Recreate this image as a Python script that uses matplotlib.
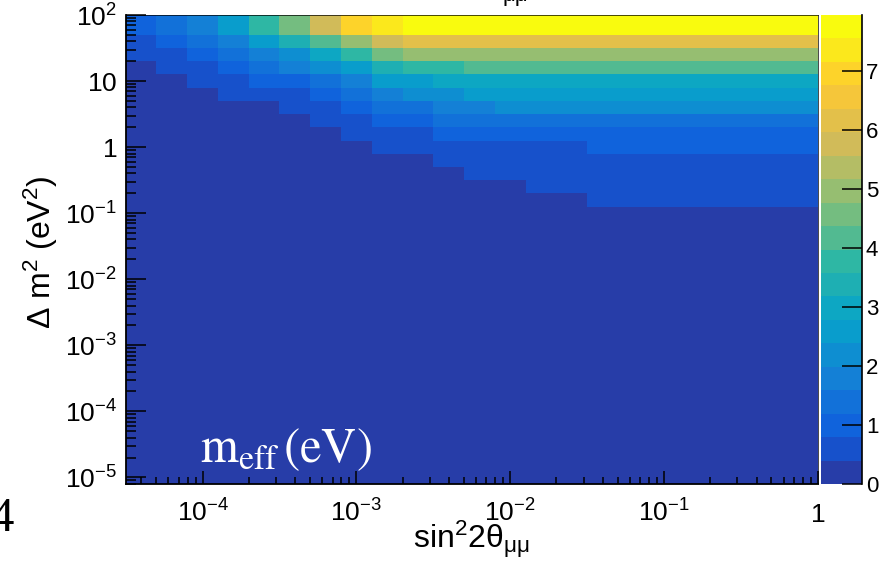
import numpy as np
import matplotlib
matplotlib.use("Agg")
import matplotlib.pyplot as plt
from matplotlib.colors import LinearSegmentedColormap, ListedColormap, BoundaryNorm
from matplotlib.ticker import LogLocator, NullFormatter

plt.rcParams['font.family'] = ['Liberation Sans', 'DejaVu Sans']
plt.rcParams['mathtext.fontset'] = 'custom'
plt.rcParams['mathtext.rm'] = 'Liberation Sans'
plt.rcParams['mathtext.it'] = 'Liberation Sans:italic'
plt.rcParams['mathtext.bf'] = 'Liberation Sans:bold'
plt.rcParams['mathtext.default'] = 'regular'

# ---- grid: log10 bin edges -------------------------------------------
log_sin2_edges = np.arange(-45, 2, 2) / 10.0                    # -4.5 ... 0.1 (23 bins)
log_dm2_edges = np.append(np.arange(-51, 18, 2) / 10.0, 2.0)    # -5.1 ... 1.7, 2.0 (35 bins)

# ---- m_eff (eV), rows from dm2 = 10^1.8 down to 10^-0.8 ----------------
m_eff_r18 = [1.0, 1.4, 1.75, 2.6, 3.7, 4.6, 5.8, 7.0, 7.4] + [7.94] * 14
m_eff_r16 = [0.6, 1.0, 1.4, 1.8, 2.6, 3.4, 4.2, 5.0, 5.8] + [6.3] * 14
m_eff_r14 = [0.5, 0.7, 1.0, 1.4, 1.8, 2.2, 3.0, 3.8, 4.6] + [5.0] * 14
m_eff_r12 = [0.35, 0.5, 0.7, 1.0, 1.4, 1.8, 2.2, 2.6, 3.4, 3.8, 3.9] + [4.0] * 12
m_eff_r10 = [0.25, 0.35, 0.5, 0.7, 0.9, 1.1, 1.4, 1.8, 2.5, 2.7, 3.0] + [3.1] * 12
m_eff_r08 = [0.2, 0.28, 0.36, 0.45, 0.6, 0.75, 1.0, 1.3, 1.8, 2.1, 2.3] + [2.5] * 12
m_eff_r06 = [0.14, 0.2, 0.26, 0.32, 0.38, 0.5, 0.7, 0.95, 1.25, 1.45, 1.7, 1.9] + [2.05] * 11
m_eff_r04 = [0.1, 0.14, 0.18, 0.23, 0.29, 0.36, 0.46, 0.62, 0.85, 1.05, 1.3, 1.4] + [1.5] * 11
m_eff_r02 = [0.07, 0.1, 0.13, 0.16, 0.2, 0.25, 0.32, 0.42, 0.55, 0.7, 0.85, 1.0] + [1.15] * 11
m_eff_r00 = [0.05, 0.07, 0.09, 0.11, 0.14, 0.18, 0.23, 0.3, 0.4, 0.5, 0.6, 0.68,
             0.74, 0.78, 0.79] + [0.95] * 8
m_eff_rm02 = [0.04, 0.05, 0.06, 0.08, 0.1, 0.13, 0.16, 0.21, 0.27, 0.35, 0.44, 0.55,
              0.64, 0.7, 0.74] + [0.76] * 8
m_eff_rm04 = [0.03, 0.04, 0.05, 0.06, 0.07, 0.09, 0.11, 0.15, 0.19, 0.25, 0.33, 0.41,
              0.5, 0.56, 0.6] + [0.62] * 8
m_eff_rm06 = [0.02, 0.03, 0.03, 0.04, 0.05, 0.06, 0.08, 0.1, 0.13, 0.18, 0.23, 0.3,
              0.37, 0.43, 0.47] + [0.5] * 8
m_eff_rm08 = [0.02, 0.02, 0.02, 0.03, 0.04, 0.04, 0.06, 0.07, 0.09, 0.13, 0.17, 0.22,
              0.28, 0.33, 0.37] + [0.41] * 8
# rows 10^-1.0 ... 10^-5.0: a single (lowest-band) level across each row
m_eff_low_rows = [0.33, 0.26, 0.21, 0.17, 0.13, 0.1, 0.085, 0.067, 0.053, 0.042, 0.033,
                  0.027, 0.021, 0.017, 0.013, 0.011, 0.0085, 0.0067, 0.0053, 0.0042, 0.0034]

m_eff_max = 7.95
n_contours = 20

x_major_ticks = [1e-4, 1e-3, 1e-2, 1e-1, 1.0]
x_tick_labels = ['$10^{-4}$', '$10^{-3}$', '$10^{-2}$', '$10^{-1}$', '$1$']
y_major_ticks = [1e-5, 1e-4, 1e-3, 1e-2, 1e-1, 1.0, 10.0, 100.0]
y_tick_labels = ['$10^{-5}$', '$10^{-4}$', '$10^{-3}$', '$10^{-2}$', '$10^{-1}$',
                 '$1$', '$10$', '$10^{2}$']
cbar_ticks = [0, 1, 2, 3, 4, 5, 6, 7]

# ---- assemble the 2-D table (ascending dm2) -----------------------------
n_cols = len(log_sin2_edges) - 1
upper = np.array([m_eff_r18, m_eff_r16, m_eff_r14, m_eff_r12, m_eff_r10, m_eff_r08,
                  m_eff_r06, m_eff_r04, m_eff_r02, m_eff_r00, m_eff_rm02, m_eff_rm04,
                  m_eff_rm06, m_eff_rm08])
lower = np.repeat(np.array(m_eff_low_rows)[:, None], n_cols, axis=1)
m_eff = np.vstack([upper, lower])[::-1]

# ---- "bird" palette, split into contour bands -------------------------
bird_stops = [0.0, 0.125, 0.25, 0.375, 0.5, 0.625, 0.75, 0.875, 1.0]
bird_r = [0.2082, 0.0592, 0.0780, 0.0232, 0.1802, 0.5301, 0.8186, 0.9956, 0.9764]
bird_g = [0.1664, 0.3599, 0.5041, 0.6419, 0.7178, 0.7492, 0.7328, 0.7862, 0.9832]
bird_b = [0.5293, 0.8684, 0.8385, 0.7914, 0.6425, 0.4662, 0.3499, 0.1968, 0.0539]
bird = LinearSegmentedColormap.from_list(
    'bird', list(zip(bird_stops, zip(bird_r, bird_g, bird_b))), N=255)
band_colors = [bird(int((k + 0.99) * 255 / n_contours) / 254.0) for k in range(n_contours)]
cmap = ListedColormap(band_colors)
levels = np.linspace(0.0, m_eff_max, n_contours + 1)
norm = BoundaryNorm(levels, n_contours)

# ---- figure ------------------------------------------------------------
W, H = 886, 562
fig = plt.figure(figsize=(W / 100, H / 100), dpi=100)
ax = fig.add_axes([125.7 / W, (H - 484) / H, (817.7 - 125.7) / W, (484 - 15) / H])
cax = fig.add_axes([820.7 / W, (H - 484) / H, 41.0 / W, (484 - 15) / H])

mesh = ax.pcolormesh(10.0 ** log_sin2_edges, 10.0 ** log_dm2_edges, m_eff,
                     cmap=cmap, norm=norm, shading='flat')
ax.set_xscale('log')
ax.set_yscale('log')
ax.set_xlim(10.0 ** log_sin2_edges[0], 1.0)
ax.set_ylim(10.0 ** log_dm2_edges[0], 100.0)

for side in ('left', 'bottom'):
    ax.spines[side].set_linewidth(1.3)
for side in ('top', 'right'):
    ax.spines[side].set_linewidth(0.5)

ax.xaxis.set_minor_locator(LogLocator(base=10, subs=np.arange(2, 10), numticks=100))
ax.yaxis.set_minor_locator(LogLocator(base=10, subs=np.arange(2, 10), numticks=100))
ax.xaxis.set_minor_formatter(NullFormatter())
ax.yaxis.set_minor_formatter(NullFormatter())

ax.tick_params(axis='x', which='major', direction='in', length=9.6, width=1.1,
               pad=27.4, labelsize=19, top=False)
ax.tick_params(axis='x', which='minor', direction='in', length=4.8, width=1.1, top=False)
ax.tick_params(axis='y', which='major', direction='in', length=14.4, width=1.1,
               pad=6.3, labelsize=19, right=False)
ax.tick_params(axis='y', which='minor', direction='in', length=7.2, width=1.1, right=False)

ax.set_xticks(x_major_ticks)
ax.set_xticklabels(x_tick_labels)
ax.set_yticks(y_major_ticks)
ax.set_yticklabels(y_tick_labels)
for lbl in ax.get_xticklabels():
    lbl.set_verticalalignment('baseline')

# ---- colour scale --------------------------------------------------------
cb = fig.colorbar(mesh, cax=cax)
cb.outline.set_visible(False)
cb.set_ticks(cbar_ticks, labels=[str(t) for t in cbar_ticks])
cb.minorticks_off()
cax.yaxis.set_ticks_position('right')
cax.tick_params(axis='y', which='major', direction='in', length=14.4, width=1.1,
                pad=3, labelsize=16, colors='black')
cax.plot([1, 1], [0, 1], transform=cax.transAxes, color='black', lw=1.2, clip_on=False)

# ---- texts -----------------------------------------------------------------
fig.text(471 / W, 1 - 548 / H, r'$\mathrm{sin}^{2}\mathrm{2θ}_{\mathrm{μμ}}$',
         fontsize=23, ha='center', va='baseline')
fig.text(41 / W, 1 - 252 / H, r'$\mathrm{Δ\ m^{2}\ (eV^{2})}$',
         fontsize=23, rotation=90, ha='center', va='center')
fig.text(200 / W, 1 - 462 / H, r'$\mathrm{m}_{\mathrm{eff}}\,\mathrm{(eV)}$',
         math_fontfamily='stix', fontsize=35, color='white', ha='left', va='baseline')
fig.text(14.5 / W, 1 - 531 / H, '4', family='Liberation Serif', fontsize=35,
         ha='right', va='baseline')
fig.text(515.5 / W, 1 - 1 / H, 'μμ', fontsize=16, ha='center', va='baseline')

fig.savefig('out.png', dpi=100)
